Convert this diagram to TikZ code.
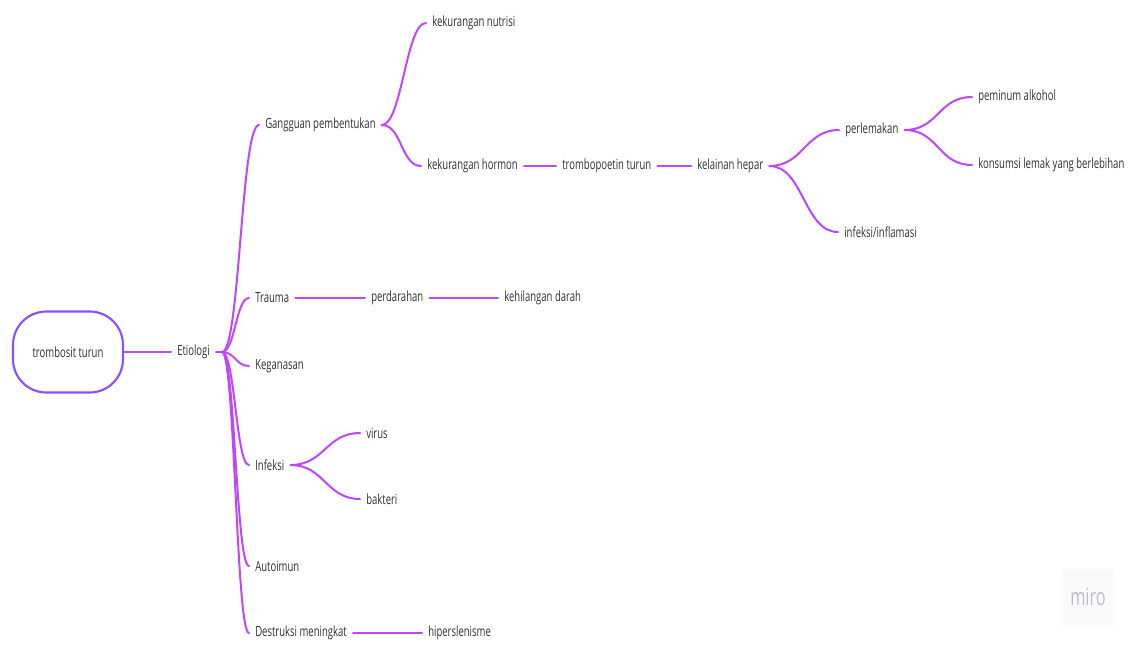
\documentclass[tikz,border=0pt]{standalone}
\usepackage{fontspec}
\setmainfont{Open Sans}[FakeStretch=0.68]
\definecolor{branch}{RGB}{190,70,255}
\definecolor{rootline}{RGB}{140,80,255}
\definecolor{ink}{RGB}{50,50,50}
\definecolor{logo}{RGB}{190,190,210}
\newcommand\mmcurve[3]{\draw[link] (#1) .. controls +(#3,0) and +(-#3,0) .. (#2);}
\begin{document}
\begin{tikzpicture}[x=0.75pt,y=-0.75pt,
  lbl/.style={anchor=west, inner xsep=4.5pt, inner ysep=2pt, text=ink,
              font=\fontsize{10.5}{12}\selectfont},
  rootbox/.style={draw=rootline, line width=1.6pt, rounded corners=25pt,
              minimum width=82.5pt, minimum height=60.75pt, text=ink,
              font=\fontsize{10.5}{12}\selectfont},
  link/.style={draw=branch, line width=1.5pt, line cap=round},
]
\useasboundingbox (0,0) rectangle (1135,644);

% central topic
\node[rootbox] (root) at (68,352) {trombosit turun};
\node[lbl] (eti) at (171,352) {Etiologi};
\coordinate (etj) at (222,352);

% first level
\node[lbl] (gp)   at (259,125) {Gangguan pembentukan};
\node[lbl] (tra)  at (249,298) {Trauma};
\node[lbl] (keg)  at (249,366) {Keganasan};
\node[lbl] (inf)  at (249,465) {Infeksi};
\node[lbl] (aut)  at (249,566) {Autoimun};
\node[lbl] (des)  at (249,633) {Destruksi meningkat};

% under "Gangguan pembentukan"
\node[lbl] (kn)   at (426,23)  {kekurangan nutrisi};
\node[lbl] (kh)   at (421,166) {kekurangan hormon};
\node[lbl] (tt)   at (556,166) {trombopoetin turun};
\node[lbl] (kp)   at (691,166) {kelainan hepar};
\node[lbl] (perl) at (839,130) {perlemakan};
\node[lbl] (infl) at (838,232) {infeksi/inflamasi};
\node[lbl] (alk)  at (972,97)  {peminum alkohol};
\node[lbl] (lem)  at (972,165) {konsumsi lemak yang berlebihan};

% under "Trauma"
\node[lbl] (per)  at (365,298) {perdarahan};
\node[lbl] (kd)   at (498,298) {kehilangan darah};

% under "Infeksi"
\node[lbl] (vir)  at (360,433) {virus};
\node[lbl] (bak)  at (360,499) {bakteri};

% under "Destruksi meningkat"
\node[lbl] (hip)  at (422,633) {hiperslenisme};

% watermark
\node[fill=black!2, minimum width=40pt, minimum height=42pt, text=logo,
      font=\fontsize{18}{20}\selectfont] (miro) at (1088,597) {miro};

% connectors
\draw[link] (root.east) -- (eti.west);
\draw[link] (eti.east) -- (etj);
\mmcurve{etj}{gp.west}{18}
\mmcurve{etj}{tra.west}{13}
\mmcurve{etj}{keg.west}{13}
\mmcurve{etj}{inf.west}{13}
\mmcurve{etj}{aut.west}{13}
\mmcurve{etj}{des.west}{13}

\mmcurve{gp.east}{kn.west}{20}
\mmcurve{gp.east}{kh.west}{20}
\draw[link] (kh.east) -- (tt.west);
\draw[link] (tt.east) -- (kp.west);
\mmcurve{kp.east}{perl.west}{34}
\mmcurve{kp.east}{infl.west}{34}
\mmcurve{perl.east}{alk.west}{34}
\mmcurve{perl.east}{lem.west}{34}

\draw[link] (tra.east) -- (per.west);
\draw[link] (per.east) -- (kd.west);

\mmcurve{inf.east}{vir.west}{34}
\mmcurve{inf.east}{bak.west}{34}

\draw[link] (des.east) -- (hip.west);
\end{tikzpicture}
\end{document}
